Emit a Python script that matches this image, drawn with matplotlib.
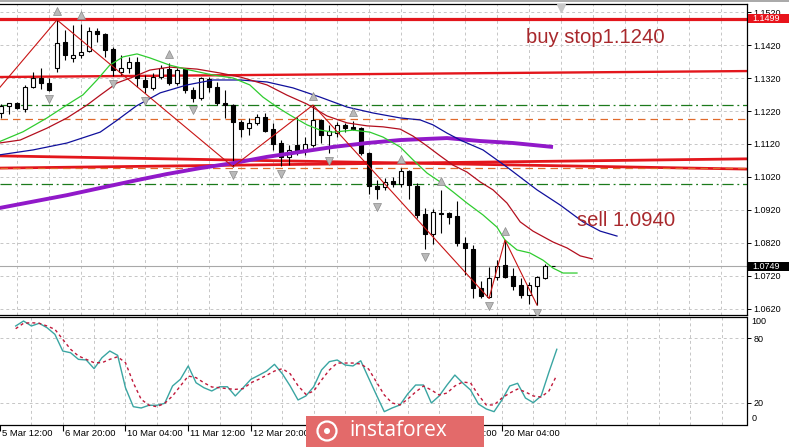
import numpy as np
import matplotlib
matplotlib.use("Agg")
import matplotlib.pyplot as plt
import matplotlib.transforms as mtransforms
from matplotlib.patches import Rectangle, Circle
from matplotlib.lines import Line2D
from matplotlib.ticker import FuncFormatter

plt.rcParams['font.family'] = ['Liberation Sans', 'DejaVu Sans']

# ---------------- data (EURUSD H4) ----------------
opens = [1.1214, 1.1235, 1.1243, 1.1225, 1.1292, 1.1321, 1.1304, 1.1349, 1.1428, 1.1380,
         1.1390, 1.1402, 1.1462, 1.1452, 1.1408, 1.1339, 1.1349, 1.1369, 1.1314, 1.1289,
         1.1322, 1.1346, 1.1304, 1.1346, 1.1284, 1.1258, 1.1316, 1.1294, 1.1245, 1.1238,
         1.1188, 1.1168, 1.1183, 1.1201, 1.1165, 1.1122, 1.1082, 1.1117, 1.1102, 1.1117,
         1.1193, 1.1147, 1.1154, 1.1178, 1.1171, 1.1168, 1.1092, 1.0993, 1.0989, 1.1009,
         1.0998, 1.1039, 1.0993, 1.0908, 1.0847, 1.0912, 1.0910, 1.0902, 1.0821, 1.0801,
         1.0683, 1.0657, 1.0716, 1.0753, 1.0720, 1.0693, 1.0662, 1.0691, 1.0713, 1.0749]
highs = [1.1241, 1.1245, 1.1247, 1.1299, 1.1337, 1.1351, 1.1321, 1.1496, 1.1465, 1.1481,
         1.1484, 1.1475, 1.1471, 1.1455, 1.1415, 1.1390, 1.1385, 1.1383, 1.1329, 1.1334,
         1.1359, 1.1365, 1.1349, 1.1349, 1.1294, 1.1324, 1.1324, 1.1309, 1.1284, 1.1240,
         1.1193, 1.1198, 1.1211, 1.1213, 1.1183, 1.1132, 1.1117, 1.1203, 1.1142, 1.1238,
         1.1195, 1.1178, 1.1188, 1.1183, 1.1191, 1.1173, 1.1097, 1.1011, 1.1016, 1.1019,
         1.1046, 1.1041, 1.1001, 1.0925, 1.0922, 1.0981, 1.0915, 1.0948, 1.0839, 1.0814,
         1.0706, 1.0746, 1.0768, 1.0829, 1.0743, 1.0713, 1.0703, 1.0720, 1.0756, 1.0749]
lows = [1.1199, 1.1211, 1.1225, 1.1218, 1.1290, 1.1287, 1.1281, 1.1337, 1.1375, 1.1369,
        1.1381, 1.1399, 1.1430, 1.1385, 1.1326, 1.1329, 1.1334, 1.1294, 1.1274, 1.1284,
        1.1316, 1.1299, 1.1299, 1.1274, 1.1248, 1.1253, 1.1278, 1.1238, 1.1198, 1.1051,
        1.1142, 1.1147, 1.1178, 1.1155, 1.1102, 1.1053, 1.1056, 1.1087, 1.1087, 1.1110,
        1.1122, 1.1092, 1.1142, 1.1157, 1.1162, 1.1087, 1.0969, 1.0952, 1.0981, 1.0991,
        1.0991, 1.0952, 1.0895, 1.0801, 1.0817, 1.0849, 1.0878, 1.0811, 1.0723, 1.0652,
        1.0652, 1.0652, 1.0708, 1.0713, 1.0678, 1.0652, 1.0635, 1.0632, 1.0710, 1.0749]
closes = [1.1236, 1.1243, 1.1228, 1.1294, 1.1321, 1.1304, 1.1284, 1.1425, 1.1390, 1.1390,
          1.1400, 1.1462, 1.1452, 1.1405, 1.1344, 1.1349, 1.1369, 1.1319, 1.1294, 1.1324,
          1.1349, 1.1304, 1.1344, 1.1284, 1.1258, 1.1319, 1.1292, 1.1243, 1.1238, 1.1186,
          1.1165, 1.1185, 1.1201, 1.1160, 1.1120, 1.1082, 1.1102, 1.1100, 1.1120, 1.1193,
          1.1147, 1.1160, 1.1178, 1.1168, 1.1166, 1.1092, 1.0993, 1.0985, 1.1006, 1.0999,
          1.1039, 1.0996, 1.0905, 1.0847, 1.0915, 1.0907, 1.0900, 1.0821, 1.0804, 1.0683,
          1.0660, 1.0715, 1.0750, 1.0718, 1.0690, 1.0662, 1.0693, 1.0716, 1.0750, 1.0749]

# Alligator-type moving averages (bar position, price)
green_bars = [-0.2, 2.75, 5.75, 8.6, 10.25, 12, 13.6, 15.25, 17, 18.6, 21.1, 23.6, 26.5, 29, 31.1,
              32.75, 34.5, 36.1, 38.25, 39.9, 41.5, 44, 46.1, 47.75, 49.9, 51.5, 53.25, 54.9, 56.5,
              58.25, 60.25, 62, 63, 64.5, 66.1, 67.75, 69, 70.25, 72]
green_vals = [1.1127, 1.1157, 1.1199, 1.1244, 1.1269, 1.1314, 1.1359, 1.1384, 1.1393, 1.1381,
              1.1359, 1.1344, 1.1329, 1.1320, 1.1299, 1.1262, 1.1232, 1.1208, 1.1178, 1.1162,
              1.1156, 1.1162, 1.1156, 1.1141, 1.1111, 1.1072, 1.1032, 1.1005, 1.0975, 1.0941,
              1.0905, 1.0868, 1.0829, 1.0799, 1.0790, 1.0768, 1.0744, 1.0729, 1.0729]
red_bars = [-0.2, 2.4, 5.75, 8.25, 10.75, 12.4, 14.5, 16.5, 18.6, 21.1, 24.5, 27.4, 29.9, 33.25,
            35.75, 38.25, 40.75, 43.25, 45.75, 47.75, 49.9, 51.5, 53.25, 54.9, 56.5, 58.25, 59.9,
            61.5, 63.25, 64.9, 66.5, 69, 70.75, 72.4, 73.9]
red_vals = [1.1123, 1.1132, 1.1168, 1.1199, 1.1238, 1.1268, 1.1305, 1.1323, 1.1344, 1.1353,
            1.1347, 1.1335, 1.1323, 1.1299, 1.1268, 1.1241, 1.1205, 1.1184, 1.1175, 1.1172,
            1.1165, 1.1144, 1.1114, 1.1084, 1.1056, 1.1035, 1.1005, 1.0981, 1.0941, 1.0884,
            1.0856, 1.0823, 1.0805, 1.0781, 1.0772]
blue_bars = [-0.2, 4, 8.25, 12.4, 14.4, 16.9, 19.9, 23.25, 26.5, 29.9, 33.25, 36.5, 39.9, 43.25,
             46.5, 49.9, 52.4, 54, 55.75, 57.4, 60.25, 63.25, 67, 69.9, 72.75, 74.9, 77]
blue_vals = [1.1087, 1.1102, 1.1123, 1.1156, 1.1190, 1.1235, 1.1275, 1.1299, 1.1314, 1.1314,
             1.1308, 1.1290, 1.1262, 1.1232, 1.1214, 1.1199, 1.1193, 1.1178, 1.1153, 1.1132,
             1.1102, 1.1050, 1.0981, 1.0935, 1.0884, 1.0856, 1.0841]
purple_bars = [-0.2, 8.25, 16.5, 20.75, 24.9, 29, 33.25, 37.4, 41.5, 45.75, 49.9, 55.75, 59.9, 64, 69]
purple_vals = [1.0926, 1.0965, 1.1008, 1.1029, 1.1047, 1.1062, 1.1081, 1.1096, 1.1111, 1.1123,
               1.1132, 1.1138, 1.1129, 1.1123, 1.1111]

# ZigZag
zigzag_start_bar, zigzag_start_price = -1, 1.1267
zigzag_bars = [7, 29, 39, 61, 63, 67]
zigzag_kind = ['H', 'L', 'H', 'L', 'H', 'L']

# Fractals
fractal_up = [7, 10, 21, 39, 44, 50, 55, 63]
fractal_down = [6, 14, 18, 24, 29, 35, 41, 47, 53, 61, 67]

# Levels / trend lines
level_top = 1.1499
trend_upper = [1.1323, 1.1341]
trend_a = [1.1084, 1.1044]
trend_b = [1.1047, 1.1075]
green_levels = [1.1238, 1.0999]
orange_levels = [1.1196, 1.1047]

# Stochastic
stoch_k = [91.1, 95.7, 91.1, 93.6, 89.5, 83.4, 68.0, 66.4, 60.3, 59.7,
           51.7, 61.8, 68.0, 64.0, 34.1, 16.6, 15.4, 17.9, 17.9, 19.7,
           35.7, 41.9, 54.2, 38.7, 34.1, 31.1, 35.0, 35.0, 26.5, 34.1,
           41.9, 45.6, 49.5, 55.7, 47.0, 35.7, 22.8, 26.5, 35.0, 50.5,
           58.2, 59.7, 55.1, 54.2, 59.0, 43.1, 27.4, 12.0, 15.4, 18.2,
           28.5, 36.6, 36.6, 20.0, 26.5, 36.6, 45.8, 38.5, 32.0, 19.1,
           14.5, 12.0, 22.8, 35.7, 38.2, 24.6, 20.3, 26.5, 48.6, 69.6]
stoch_d = [88.6, 93.6, 94.1, 93.6, 91.1, 88.0, 78.8, 69.6, 63.4, 60.3,
           57.2, 57.2, 60.3, 62.7, 57.2, 38.7, 23.4, 17.9, 16.6, 19.7,
           26.5, 35.7, 44.9, 43.4, 38.7, 34.8, 34.1, 33.2, 32.6, 33.2,
           38.7, 41.9, 45.6, 49.5, 51.7, 47.0, 36.0, 28.0, 31.0, 41.2,
           50.5, 56.9, 56.9, 56.9, 56.0, 51.4, 39.4, 27.4, 20.0, 18.2,
           23.7, 30.2, 35.7, 32.0, 27.4, 29.2, 35.7, 39.4, 38.5, 27.4,
           18.2, 18.2, 24.6, 29.2, 32.9, 30.2, 26.5, 25.5, 31.1, 45.8]

price_ticks = [1.0620, 1.0720, 1.0820, 1.0920, 1.1020, 1.1120, 1.1220, 1.1320, 1.1420, 1.1520]
# labels visible in the reference (16-17 Mar labels are hidden by the watermark)
time_labels = ["5 Mar 12:00", "6 Mar 20:00", "10 Mar 04:00", "11 Mar 12:00", "12 Mar 20:00",
               "18 Mar 20:00", "20 Mar 04:00"]
time_label_bars = [-2, 6, 14, 22, 30, 54, 62]
time_tick_bars = [-2, 6, 14, 22, 30, 38, 46, 54, 62]
buy_text = "buy stop1.1240"
sell_text = "sell 1.0940"
buy_text_pos = (65.6, 1.1427)
sell_text_pos = (72.0, 1.0872)

# ---------------- layout ----------------
W, H = 789, 447
fig = plt.figure(figsize=(W / 100, H / 100), dpi=100)
fig.patch.set_facecolor('white')

def fx(px):
    return px / W

def fy(py):
    return 1 - py / H

main_top, main_bot = 3.5, 314.5
sub_top, sub_bot = 317.0, 424.5
plot_right = 746.5
bar_px = 8.0

ax = fig.add_axes([0, fy(main_bot), fx(plot_right), (main_bot - main_top) / H])
sub = fig.add_axes([0, fy(sub_bot), fx(plot_right), (sub_bot - sub_top) / H])

x_lo, x_hi = -1 / bar_px, (plot_right - 1) / bar_px
y_lo, y_hi = 1.060333, 1.154576
ax.set_xlim(x_lo, x_hi)
ax.set_ylim(y_lo, y_hi)
sub.set_xlim(x_lo, x_hi)
sub.set_ylim(0.15, 99.4)
px_per_price = (main_bot - main_top) / (y_hi - y_lo)

grid_col = '#c6c6c6'
grid_ls = (0, (3, 3))
grid_bars = np.arange(2, 94, 4)
for a in (ax, sub):
    for gb in grid_bars:
        a.axvline(gb, color=grid_col, lw=0.7, ls=grid_ls, zorder=0)
    for s in ('top', 'right', 'bottom'):
        a.spines[s].set_color('black')
        a.spines[s].set_linewidth(0.9)
    a.spines['left'].set_visible(False)
    a.set_facecolor('white')
for pt in price_ticks:
    ax.axhline(pt, color=grid_col, lw=0.7, ls=grid_ls, zorder=0)
for sv in (20, 80):
    sub.axhline(sv, color=grid_col, lw=0.7, ls=grid_ls, zorder=0)

# ---------------- levels ----------------
red = '#e3161c'
ax.axhline(level_top, color=red, lw=2.3, zorder=2)
ax.plot([x_lo, x_hi], trend_upper, color=red, lw=1.7, zorder=2)
ax.plot([x_lo, x_hi], trend_a, color=red, lw=2.0, zorder=2)
ax.plot([x_lo, x_hi], trend_b, color=red, lw=2.0, zorder=2)
for gl in green_levels:
    ax.axhline(gl, color='#1b7a1b', lw=0.9, ls=(0, (9, 3, 1.5, 3)), zorder=2)
for ol in orange_levels:
    ax.axhline(ol, color='#e06a2c', lw=0.9, ls=(0, (6, 4)), zorder=2)
ax.axhline(closes[-1], color='#a8a8a8', lw=0.8, zorder=2)

# ---------------- candles ----------------
o = np.array(opens); h = np.array(highs); l = np.array(lows); c = np.array(closes)
bars = np.arange(len(o))
up = c >= o
ax.vlines(bars, l, h, color='black', lw=0.8, zorder=3)
body_lo = np.minimum(o, c)
body_h = np.abs(c - o)
ax.bar(bars[up], body_h[up], bottom=body_lo[up], width=0.6, facecolor='white',
       edgecolor='black', lw=0.8, zorder=4)
ax.bar(bars[~up], body_h[~up], bottom=body_lo[~up], width=0.6, facecolor='black',
       edgecolor='black', lw=0.8, zorder=4)

# ---------------- indicator lines ----------------
ax.plot(purple_bars, purple_vals, color='#9119c9', lw=2.8, zorder=5, solid_capstyle='butt')
ax.plot(blue_bars, blue_vals, color='#10109c', lw=0.9, zorder=6)
ax.plot(red_bars, red_vals, color='#b30f1e', lw=0.9, zorder=6)
ax.plot(green_bars, green_vals, color='#2fcc2f', lw=0.9, zorder=6)

zz_x = [zigzag_start_bar] + zigzag_bars
zz_y = [zigzag_start_price] + [h[b] if k == 'H' else l[b] for b, k in zip(zigzag_bars, zigzag_kind)]
ax.plot(zz_x, zz_y, color='#c81414', lw=0.8, zorder=6)

# fractals
t_up = mtransforms.offset_copy(ax.transData, fig=fig, y=9, units='dots')
t_dn = mtransforms.offset_copy(ax.transData, fig=fig, y=-8, units='dots')
ax.plot(fractal_up, h[fractal_up], ls='none', marker='^', ms=5.5, mfc='#b9b9b9',
        mec='#8a8a8a', mew=0.5, transform=t_up, zorder=7)
ax.plot(fractal_down, l[fractal_down], ls='none', marker='v', ms=5.5, mfc='#b9b9b9',
        mec='#8a8a8a', mew=0.5, transform=t_dn, zorder=7)
# chart-shift marker
ax.plot([len(o)], [0.985], ls='none', marker='v', ms=6, mfc='#c8c8c8', mec='#c8c8c8',
        transform=mtransforms.blended_transform_factory(ax.transData, ax.transAxes),
        clip_on=False, zorder=7)

# annotations
txt_col = '#a8282c'
ax.text(buy_text_pos[0], buy_text_pos[1], buy_text, color=txt_col, fontsize=14.6,
        ha='left', va='baseline', zorder=8)
ax.text(sell_text_pos[0], sell_text_pos[1], sell_text, color=txt_col, fontsize=14.6,
        ha='left', va='baseline', zorder=8)

# ---------------- price axis ----------------
ax.yaxis.tick_right()
ax.set_yticks(price_ticks)
ax.yaxis.set_major_formatter(FuncFormatter(lambda v, p: f"{v:.4f}"))
ax.tick_params(axis='y', direction='out', length=3, width=0.7, pad=2, labelsize=6.5, colors='black')
ax.set_xticks([])

bt = mtransforms.blended_transform_factory(ax.transAxes, ax.transData)
box_w = (W - plot_right) / plot_right
for val, col in ((level_top, '#e8141c'), (closes[-1], 'black')):
    hh = 9 / px_per_price
    ax.add_patch(Rectangle((1.0015, val - hh / 2), box_w, hh, transform=bt, facecolor=col,
                           edgecolor='none', clip_on=False, zorder=10))
    ax.text(1.0 + 5.5 / plot_right, val, f"{val:.4f}", transform=bt, color='white',
            fontsize=6.5, ha='left', va='center', clip_on=False, zorder=11)

# ---------------- stochastic ----------------
sub.plot(bars, stoch_k, color='#3aa5a2', lw=1.0, zorder=3)
sub.plot(bars, stoch_d, color='#c0183a', lw=1.0, ls=(0, (2.2, 2.2)), zorder=3)
sub.yaxis.tick_right()
sub.set_yticks([20, 80])
sub.set_yticklabels(['20', '80'])
sub.tick_params(axis='y', direction='out', length=3, width=0.7, pad=2, labelsize=6.5)
st = mtransforms.blended_transform_factory(sub.transAxes, sub.transData)
for val, dy in ((100, -5.5), (0, 6.5)):
    sub.text(1.0, val, str(val), fontsize=6.5, ha='left', va='center', clip_on=False,
             transform=st + mtransforms.ScaledTranslation(5 / 100, dy / 100, fig.dpi_scale_trans))

sub.set_xticks(time_tick_bars)
sub.set_xticklabels([])
sub.tick_params(axis='x', direction='out', length=4, width=0.8)
xt = mtransforms.blended_transform_factory(sub.transData, sub.transAxes) + \
    mtransforms.ScaledTranslation(2 / 100, -9.5 / 100, fig.dpi_scale_trans)
for b, lab in zip(time_label_bars, time_labels):
    sub.text(b, 0, lab, transform=xt, fontsize=6.8, ha='left', va='center', clip_on=False)

# ---------------- watermark & frame ----------------
fig.add_artist(Rectangle((fx(306), 0), fx(484) - fx(306), (H - 416) / H, transform=fig.transFigure,
                         facecolor='#e36a6a', edgecolor='none', zorder=20))
fig.text(fx(349), fy(431), 'instaforex', color='white', fontsize=15, ha='left', va='center',
         family=['Open Sans', 'DejaVu Sans'], zorder=21)
fig.add_artist(Circle((327 / 100, (H - 431) / 100), 0.095, transform=fig.dpi_scale_trans,
                      fill=False, edgecolor='white', lw=1.6, zorder=21))
fig.add_artist(Circle((327 / 100, (H - 431) / 100), 0.03, transform=fig.dpi_scale_trans,
                      facecolor='white', edgecolor='none', zorder=21))
fig.add_artist(Line2D([0, 1], [1 - 0.6 / H, 1 - 0.6 / H], transform=fig.transFigure,
                      color='#9a9a9a', lw=1.2, zorder=20))

fig.savefig('out.png', dpi=100, facecolor='white')
